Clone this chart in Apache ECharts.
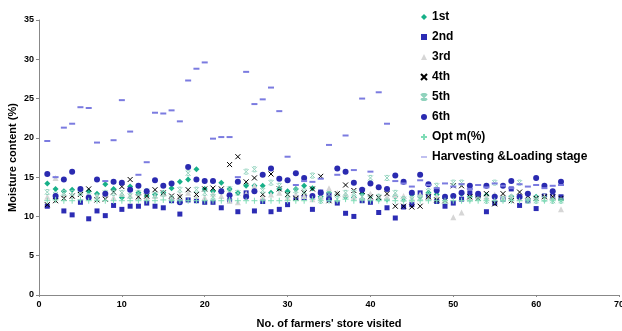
<!DOCTYPE html>
<html>
<head>
<meta charset="utf-8">
<script src="https://cdn.jsdelivr.net/npm/echarts@6/dist/echarts.min.js"></script>
<style>
  html, body { margin: 0; padding: 0; background: #fff; }
  #chart { width: 622px; height: 331px; }
</style>
</head>
<body>
<div id="chart"></div>
<script>
// store number on x, moisture content (%) on y
const seriesNames = ['1st', '2nd', '3rd', '4th', '5th', '6th', 'Opt m(%)', 'Harvesting &Loading stage'];

const first = [14.2, 13.5, 13.2, 13.4, 13.0, 13.2, 12.9, 14.1, 13.5, 12.4, 13.8, 13.0, 12.6, 12.8, 13.0, 13.6, 14.4, 14.7, 16.0, 13.5,
  13.2, 14.3, 13.5, 13.0, 13.9, 13.9, 13.9, 13.0, 13.5, 13.2, 13.5, 13.9, 13.6, 12.5, 13.0, 12.8, 12.5, 12.4, 12.9, 12.6,
  12.2, 12.2, 12.5, 12.3, 12.8, 12.5, 13.0, 12.8, 12.3, 12.6, 12.9, 12.5, 12.4, 12.7, 12.6, 12.2, 12.5, 12.3, 12.2, 12.5,
  12.6, 12.3, 12.2];
const second = [11.3, 12.5, 10.7, 10.2, 11.8, 9.7, 10.7, 10.1, 11.4, 10.9, 11.3, 11.3, 11.7, 11.3, 11.1, 12.0, 10.3, 12.1, 12.0, 11.8,
  11.8, 11.1, 12.0, 10.6, 13.0, 10.7, 11.9, 10.6, 10.9, 11.5, 12.4, 12.4, 10.9, 13.1, 12.7, 11.7, 10.4, 10.0, 12.0, 11.8,
  10.5, 11.1, 9.8, 11.2, 11.5, 13.0, 12.5, 11.9, 11.3, 11.7, 12.2, 13.0, 12.6, 10.6, 11.7, 12.2, 13.5, 11.4, 12.0, 11.0,
  12.6, 12.6, 12.5];
const third = [12.5, 14.9, 12.8, 12.6, 13.2, 12.5, 12.6, 12.8, 12.4, 12.9, 12.7, 12.5, 12.4, 12.6, 12.9, 12.5, 12.8, 13.0, 12.6, 12.4,
  12.9, 12.6, 12.0, 11.8, 12.9, 13.9, 12.5, 12.8, 13.0, 12.4, 12.8, 12.6, 12.2, 12.5, 13.6, 13.0, 12.8, 12.5, 12.4, 12.9,
  12.6, 12.5, 12.7, 12.6, 12.4, 12.8, 12.5, 12.6, 12.3, 9.9, 10.5, 12.4, 12.6, 12.5, 12.8, 12.4, 12.6, 12.3, 12.5, 12.4,
  12.6, 12.5, 10.9];
const fourth = [11.5, 12.0, 12.3, 12.6, 12.8, 13.5, 12.1, 12.2, 13.1, 13.8, 14.7, 12.5, 12.6, 13.4, 13.0, 12.6, 12.5, 13.4, 12.8, 13.5,
  13.6, 13.5, 16.6, 17.6, 14.4, 14.9, 12.8, 15.4, 13.5, 12.8, 12.3, 13.0, 13.5, 15.1, 12.0, 12.9, 14.0, 13.3, 13.2, 12.5,
  12.4, 12.9, 11.3, 11.3, 11.2, 11.3, 12.5, 12.1, 12.0, 13.9, 13.9, 12.5, 12.3, 12.9, 11.6, 12.9, 12.0, 13.1, 12.6, 12.3,
  12.5, 12.5, 12.3];
const fifth = [13.1, 12.8, 13.0, 13.0, 13.0, 12.6, 12.5, 13.0, 13.0, 13.0, 12.6, 13.0, 13.2, 12.7, 12.9, 12.3, 13.4, 15.5, 13.4, 13.0,
  12.5, 13.2, 13.5, 13.0, 15.7, 16.0, 13.3, 14.3, 13.9, 12.7, 13.3, 13.2, 15.2, 12.0, 12.8, 12.2, 13.0, 13.0, 12.5, 14.9,
  12.5, 14.9, 13.0, 12.2, 12.2, 12.4, 13.2, 13.9, 12.0, 14.3, 14.3, 12.2, 12.5, 12.0, 14.3, 12.2, 12.4, 14.3, 12.0, 12.0,
  12.2, 12.0, 12.0];
const sixth = [15.4, 12.6, 14.7, 15.7, 13.5, 12.4, 14.7, 12.9, 14.4, 14.3, 13.4, 13.9, 13.2, 14.6, 13.9, 14.2, 11.8, 16.3, 14.7, 14.5,
  14.5, 13.2, 12.7, 14.4, 12.5, 13.2, 15.3, 16.1, 14.8, 14.6, 15.5, 14.9, 12.6, 13.0, 12.2, 16.1, 15.7, 14.3, 13.4, 14.2,
  13.7, 13.5, 15.2, 14.4, 13.0, 15.3, 14.1, 13.3, 12.5, 12.6, 13.0, 13.9, 12.9, 13.9, 12.5, 13.9, 14.5, 12.5, 12.9, 14.9,
  13.9, 13.2, 14.4];
const optM = [12.0, 12.1, 12.0, 12.0, 12.1, 12.0, 12.0, 12.0, 12.0, 12.0, 12.0, 12.0, 12.0, 12.0, 12.1, 12.0, 12.0, 12.0, 12.0, 12.0,
  12.0, 12.0, 12.1, 12.0, 12.0, 12.0, 12.0, 12.0, 12.0, 12.0, 12.0, 12.0, 12.2, 12.0, 12.0, 12.0, 12.2, 12.0, 12.1, 12.0,
  12.0, 12.0, 12.0, 12.0, 12.0, 12.0, 12.0, 12.0, 12.0, 12.0, 12.0, 12.0, 12.0, 12.0, 12.0, 12.0, 12.0, 12.0, 12.0, 12.0,
  12.0, 12.0, 12.0];
const harvest = [19.6, 15.0, 21.3, 21.8, 23.9, 23.8, 19.4, 14.5, 19.7, 24.8, 20.8, 15.3, 16.9, 23.2, 23.1, 23.5, 22.1, 27.3, 28.8, 29.6,
  19.9, 20.1, 20.1, 15.0, 28.4, 24.3, 24.9, 26.4, 23.4, 17.6, 14.0, 14.5, 14.4, 14.8, 19.1, 15.3, 20.3, 15.9, 25.0, 15.7,
  25.8, 21.8, 14.5, 14.2, 13.8, 14.6, 14.0, 13.6, 14.2, 13.8, 14.1, 13.5, 14.0, 13.7, 14.2, 13.9, 13.6, 14.1, 13.8, 14.0,
  13.6, 13.9, 14.0];

const xTicks = [0, 10, 20, 30, 40, 50, 60, 70];
const yTicks = [0, 5, 10, 15, 20, 25, 30, 35];

const font = 'Arial, "Liberation Sans", sans-serif';

// marker look per series, same order as seriesNames
const markers = [
  { symbol: 'diamond', size: 6, color: '#17b088' },
  { symbol: 'rect', size: 5, color: '#2c2cb4' },
  { symbol: 'triangle', size: 6, color: '#d6d6d6' },
  { symbol: 'path://M0,0L10,10M10,0L0,10', size: 5, stroke: '#000000' },
  { symbol: 'path://M0,0L10,10M10,0L0,10M2,0L8,0M2,10L8,10', size: 5, stroke: '#8fd2bc' },
  { symbol: 'circle', size: 6, color: '#2a2ab0' },
  { symbol: 'path://M5,0L5,10M0,5L10,5', size: 6, stroke: '#7fdcb6' },
  { symbol: 'rect', size: [6, 2], color: '#7b7be0' }
];

const values = [first, second, third, fourth, fifth, sixth, optM, harvest];

// legend icon for the dash series: a thin bar inside a square box
const dashIcon = 'path://M0,0L0,0M0,4.2L10,4.2L10,5.8L0,5.8ZM10,10L10,10';

document.addEventListener('DOMContentLoaded', function() {
  const chart = echarts.init(document.getElementById('chart'));

  const series = values.map((arr, i) => {
    const m = markers[i];
    return {
      name: seriesNames[i],
      type: 'scatter',
      symbol: m.symbol,
      symbolSize: m.size,
      itemStyle: m.stroke
        ? { color: 'rgba(0,0,0,0)', borderColor: m.stroke, borderWidth: 1, opacity: 1 }
        : { color: m.color, opacity: 1 },
      emphasis: { disabled: true },
      data: arr.map((v, k) => [k + 1, v])
    };
  });

  const option = {
    animation: false,
    textStyle: { fontFamily: font },
    grid: { left: 39, right: 3, top: 20, bottom: 36, containLabel: false, outerBoundsMode: 'none' },
    legend: {
      orient: 'vertical',
      left: 415,
      top: 6,
      itemWidth: 6,
      itemHeight: 6,
      itemGap: 8,
      textStyle: { fontFamily: font, fontSize: 12, fontWeight: 'bold', color: '#000' },
      data: seriesNames.map((n, i) => (i === seriesNames.length - 1 ? { name: n, icon: dashIcon } : n))
    },
    xAxis: {
      type: 'value',
      min: xTicks[0],
      max: xTicks[xTicks.length - 1],
      interval: 10,
      name: "No. of farmers' store visited",
      nameLocation: 'middle',
      nameGap: 23,
      nameMoveOverlap: false,
      nameTextStyle: { fontFamily: font, fontSize: 11, fontWeight: 'bold', color: '#000' },
      axisLine: { lineStyle: { color: '#888', width: 1 } },
      axisTick: { show: true, length: 2, lineStyle: { color: '#888' } },
      axisLabel: { fontFamily: font, fontSize: 9, fontWeight: 'bold', color: '#000', margin: 5 },
      splitLine: { show: false }
    },
    yAxis: {
      type: 'value',
      min: yTicks[0],
      max: yTicks[yTicks.length - 1],
      interval: 5,
      name: 'Moisture content (%)',
      nameLocation: 'middle',
      nameRotate: 90,
      nameGap: 21,
      nameMoveOverlap: false,
      nameTextStyle: { fontFamily: font, fontSize: 11, fontWeight: 'bold', color: '#000' },
      axisLine: { show: true, lineStyle: { color: '#888', width: 1 } },
      axisTick: { show: true, length: 3, lineStyle: { color: '#888' } },
      axisLabel: { fontFamily: font, fontSize: 9, fontWeight: 'bold', color: '#000', margin: 5 },
      splitLine: { show: false }
    },
    series: series
  };

  chart.setOption(option);
});
</script>
</body>
</html>
